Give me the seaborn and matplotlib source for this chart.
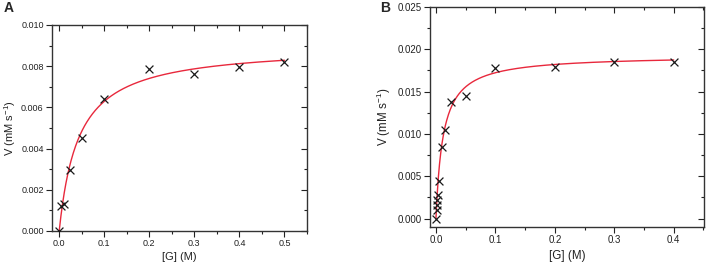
import numpy as np
import pandas as pd
import matplotlib
matplotlib.use("Agg")
import matplotlib.pyplot as plt
import seaborn as sns
from matplotlib.ticker import MultipleLocator

# ---- data ----
a_conc = [0.0, 0.005, 0.01, 0.025, 0.05, 0.1, 0.2, 0.3, 0.4, 0.5]
a_rate = [0.0, 0.00122, 0.0013, 0.00298, 0.00452, 0.00639, 0.00788, 0.0076, 0.00796, 0.0082]
a_vmax, a_km = 0.0090, 0.043

b_conc = [0.0, 0.001, 0.0015, 0.002, 0.003, 0.005, 0.01, 0.015, 0.025, 0.05, 0.1, 0.2, 0.3, 0.4]
b_rate = [0.0, 0.00106, 0.00157, 0.00216, 0.00283, 0.0044, 0.00846, 0.0105, 0.01378, 0.01445,
          0.01783, 0.01791, 0.0185, 0.0185]
b_vmax, b_km = 0.0193, 0.012

sns.set_style("ticks")
plt.rcParams["font.family"] = ["Liberation Sans", "DejaVu Sans"]
plt.rcParams["mathtext.default"] = "regular"

fig = plt.figure(figsize=(7.08, 2.66), dpi=100)
W, H = 708, 266

def make_ax(l, t, r, b):
    return fig.add_axes([l / W, 1 - b / H, (r - l) / W, (b - t) / H])

axA = make_ax(52, 25, 307, 231)
axB = make_ax(430, 7, 704, 227)

red = "#e8283c"
tick_col = "#222222"

def draw(ax, conc, rate, vmax, km, xmax_fit, xlim, ylim, xmaj, ymaj, yfmt, tsize, lsize, ylpad):
    xs = np.linspace(0, xmax_fit, 400)
    fit = pd.DataFrame({"x": xs, "y": vmax * xs / (km + xs)})
    sns.lineplot(data=fit, x="x", y="y", ax=ax, color=red, lw=1.0, zorder=2)
    pts = pd.DataFrame({"x": conc, "y": rate})
    sns.scatterplot(data=pts, x="x", y="y", ax=ax, marker="x", color="#1a1a1a",
                    s=32, linewidth=0.9, zorder=3)
    ax.set_xlim(*xlim)
    ax.set_ylim(*ylim)
    ax.xaxis.set_major_locator(MultipleLocator(xmaj))
    ax.xaxis.set_minor_locator(MultipleLocator(xmaj / 2))
    ax.yaxis.set_major_locator(MultipleLocator(ymaj))
    ax.yaxis.set_minor_locator(MultipleLocator(ymaj / 2))
    ax.xaxis.set_major_formatter(matplotlib.ticker.FormatStrFormatter("%.1f"))
    ax.yaxis.set_major_formatter(matplotlib.ticker.FormatStrFormatter(yfmt))
    for sp in ax.spines.values():
        sp.set_visible(True)
        sp.set_linewidth(1.0)
        sp.set_color("#333333")
    ax.tick_params(which="major", direction="out", length=4, width=0.8,
                   labelsize=tsize, colors=tick_col, pad=2)
    ax.tick_params(which="minor", direction="out", length=2.5, width=0.8, colors=tick_col)
    ax.set_xlabel("[G] (M)", fontsize=lsize, color=tick_col, labelpad=3)
    ax.set_ylabel("V (mM s$^{-1}$)", fontsize=lsize, color=tick_col, labelpad=ylpad)
    # mirrored inward ticks on top and right
    top = ax.secondary_xaxis("top")
    top.xaxis.set_major_locator(MultipleLocator(xmaj))
    top.xaxis.set_minor_locator(MultipleLocator(xmaj / 2))
    top.tick_params(which="major", direction="in", length=4, width=0.8, labeltop=False, colors=tick_col)
    top.tick_params(which="minor", direction="in", length=2.5, width=0.8, colors=tick_col)
    top.spines["top"].set_visible(False)
    right = ax.secondary_yaxis("right")
    right.yaxis.set_major_locator(MultipleLocator(ymaj))
    right.yaxis.set_minor_locator(MultipleLocator(ymaj / 2))
    right.tick_params(which="major", direction="in", length=4, width=0.8, labelright=False, colors=tick_col)
    right.tick_params(which="minor", direction="in", length=2.5, width=0.8, colors=tick_col)
    right.spines["right"].set_visible(False)

draw(axA, a_conc, a_rate, a_vmax, a_km, 0.5, (-0.016, 0.55), (0.0, 0.010), 0.1, 0.002, "%.3f", 6.5, 8, 2)
draw(axB, b_conc, b_rate, b_vmax, b_km, 0.4, (-0.010, 0.451), (-0.001, 0.025), 0.1, 0.005, "%.3f", 7, 8.4, 3)

fig.text(4 / W, 1 - 8 / H, "A", fontsize=10, fontweight="bold", va="center", ha="left")
fig.text(380 / W, 1 - 8 / H, "B", fontsize=10, fontweight="bold", va="center", ha="left")

fig.savefig("out.png", dpi=100)
